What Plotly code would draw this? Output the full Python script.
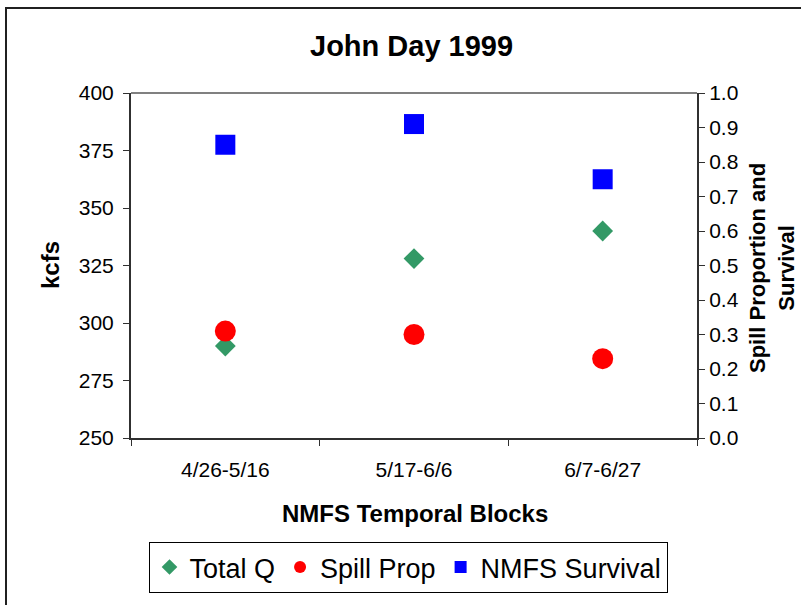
import plotly.graph_objects as go

categories = ["4/26-5/16", "5/17-6/6", "6/7-6/27"]
total_q = [290, 328, 340]
spill_prop = [0.31, 0.30, 0.23]
nmfs_survival = [0.85, 0.91, 0.75]

FONT = "Liberation Sans, Arial, sans-serif"

fig = go.Figure()
fig.add_trace(go.Scatter(x=categories, y=total_q, name="Total Q", mode="markers",
                         marker=dict(symbol="diamond", size=16, color="#339966"), yaxis="y"))
fig.add_trace(go.Scatter(x=categories, y=spill_prop, name="Spill Prop", mode="markers",
                         marker=dict(symbol="circle", size=21, color="#FF0000"), yaxis="y2"))
fig.add_trace(go.Scatter(x=categories, y=nmfs_survival, name="NMFS Survival", mode="markers",
                         marker=dict(symbol="square", size=20, color="#0000FF"), yaxis="y2"))

L, R, T, B = 131, 801 - 697, 93, 605 - 438
PW, PH = 801 - L - R, 605 - T - B

def px(x):
    return (x - L) / PW

def py(y):
    return (605 - B - y) / PH

fig.update_layout(
    width=801, height=605,
    margin=dict(l=L, r=R, t=T, b=B, pad=0),
    paper_bgcolor="white", plot_bgcolor="white",
    font=dict(family=FONT, color="black"),
    showlegend=True,
    legend=dict(orientation="h", x=px(408), xanchor="center", y=py(542), yanchor="top",
                bordercolor="black", borderwidth=1, font=dict(size=27, family=FONT),
                itemsizing="constant", itemwidth=30, bgcolor="white"),
    xaxis=dict(type="category", range=[-0.5, 2.5], showgrid=False, zeroline=False,
               showline=True, linecolor="#303030", linewidth=2,
               ticks="outside", tickson="boundaries", ticklen=6, tickcolor="#303030",
               tickfont=dict(size=21, family=FONT), ticklabelstandoff=12),
    yaxis=dict(range=[250, 400], dtick=25, tick0=250, showgrid=False, zeroline=False,
               showline=True, linecolor="#303030", linewidth=2,
               ticks="outside", ticklen=6, tickcolor="#303030",
               tickfont=dict(size=21, family=FONT), ticklabelstandoff=5),
    yaxis2=dict(range=[0, 1.0], dtick=0.1, tick0=0, tickformat=".1f", overlaying="y",
                side="right", showgrid=False, zeroline=False,
                showline=True, linecolor="#303030", linewidth=2,
                ticks="outside", ticklen=6, tickcolor="#303030",
                tickfont=dict(size=21, family=FONT), ticklabelstandoff=0),
    shapes=[
        dict(type="line", xref="paper", yref="paper", x0=0, x1=1, y0=1, y1=1,
             line=dict(color="#808080", width=2)),
        dict(type="rect", xref="paper", yref="paper", x0=px(6), x1=px(900), y0=py(8), y1=py(700),
             line=dict(color="#202020", width=2), fillcolor="rgba(0,0,0,0)", layer="below"),
    ],
    annotations=[
        dict(text="<b>John Day 1999</b>", xref="paper", yref="paper", x=px(411), y=py(46),
             showarrow=False, font=dict(size=29, family=FONT), xanchor="center", yanchor="middle"),
        dict(text="<b>kcfs</b>", xref="paper", yref="paper", x=px(50), y=py(265),
             showarrow=False, textangle=-90, font=dict(size=24, family=FONT),
             xanchor="center", yanchor="middle"),
        dict(text="<b>Spill Proportion and<br>Survival</b>", xref="paper", yref="paper",
             x=px(772), y=py(268), showarrow=False, textangle=-90,
             font=dict(size=22, family=FONT), xanchor="center", yanchor="middle"),
        dict(text="<b>NMFS Temporal Blocks</b>", xref="paper", yref="paper", x=px(415), y=py(513),
             showarrow=False, font=dict(size=24, family=FONT), xanchor="center", yanchor="middle"),
    ],
)

fig.write_html("out.html", config={"displayModeBar": False},
               post_script="document.body.style.margin='0px';")
